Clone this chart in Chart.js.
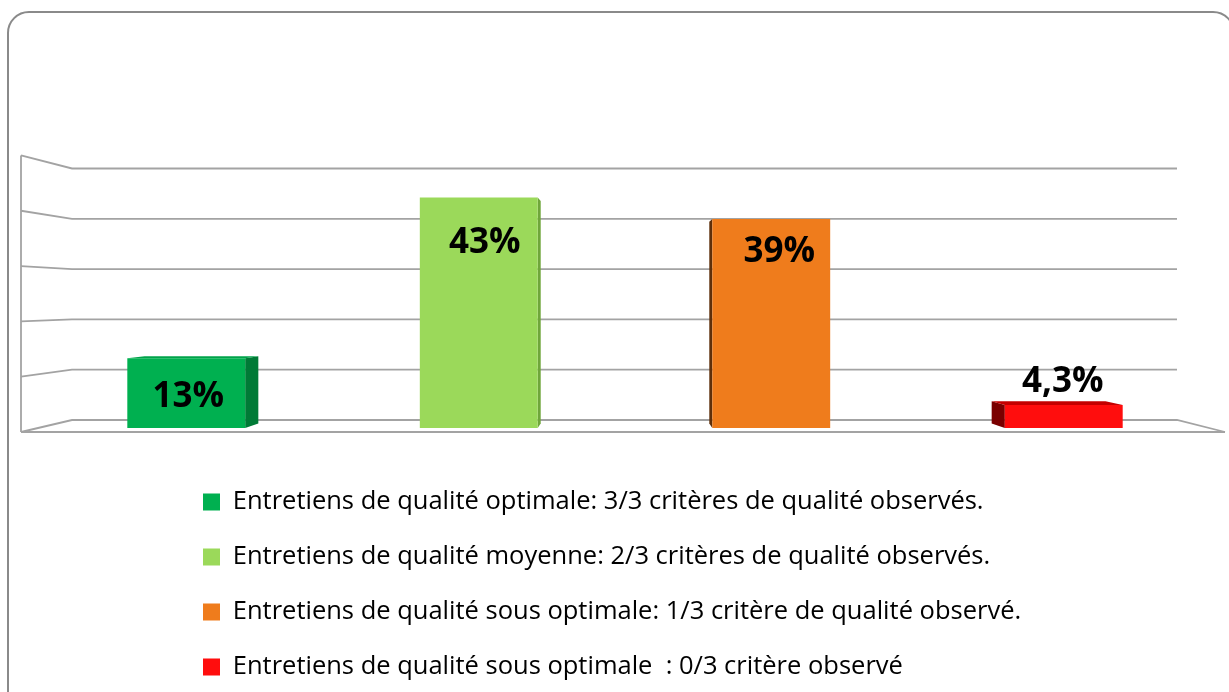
<!DOCTYPE html>
<html>
<head>
<meta charset="utf-8">
<script src="https://cdn.jsdelivr.net/npm/chart.js@4.4.0/dist/chart.umd.min.js"></script>
<style>
  html, body { margin: 0; padding: 0; background: #ffffff; }
  #wrap { width: 1229px; height: 692px; position: relative; }
</style>
</head>
<body>
<div id="wrap"><canvas id="c" width="1229" height="692"></canvas></div>
<script>
// ---- data ----
const categories = [
  'Entretiens de qualité optimale: 3/3 critères de qualité observés.',
  'Entretiens de qualité moyenne: 2/3 critères de qualité observés.',
  'Entretiens de qualité sous optimale: 1/3 critère de qualité observé.',
  'Entretiens de qualité sous optimale  : 0/3 critère observé'
];
const values = [13, 43, 39, 4.3];
const yTicks = [0, 10, 20, 30, 40, 50];

// ---- styles ----
const frontColors = ['#00B050', '#9BD95A', '#EF7C1C', '#FF0D0D'];
const sideColors  = ['#007A36', '#6FA63A', '#5E2F0A', '#7A0000'];
const topColors   = ['#00A34A', '#8BC94F', '#D96E15', '#C40000'];
// label baseline offsets relative to bar top (px) and x nudge
const labelDX = [2, 6, 8, -1];
const labelDY = [48.5, 55.5, 43.5, -12.5];

const fmt = v => String(v).replace('.', ',') + '%';

const frame = {
  id: 'frame',
  beforeDraw(chart) {
    const ctx = chart.ctx;
    ctx.save();
    ctx.strokeStyle = '#8A8A8A';
    ctx.lineWidth = 2;
    ctx.beginPath();
    ctx.roundRect(8, 12, 1226, 700, 21);
    ctx.stroke();
    ctx.restore();
  }
};

const walls = {
  id: 'walls',
  beforeDatasetsDraw(chart) {
    const {ctx, chartArea: a, scales: {y}} = chart;
    const B = a.bottom;
    const fy = v => B + 4 + (y.getPixelForValue(v) - B) * 1.032;
    const by = v => B - 8 + (y.getPixelForValue(v) - B) * 0.9385;
    const fl = a.left - 19, bl = a.left + 32, br = a.right - 33, fr = a.right + 15;
    ctx.save();
    ctx.strokeStyle = '#A3A3A3';
    ctx.lineWidth = 1.8;
    ctx.lineJoin = 'miter';
    ctx.beginPath();
    ctx.moveTo(fl, fy(yTicks[yTicks.length - 1]));
    ctx.lineTo(fl, fy(0));
    ctx.stroke();
    yTicks.forEach(v => {
      ctx.beginPath();
      ctx.moveTo(fl, fy(v));
      ctx.lineTo(bl, by(v));
      ctx.lineTo(br, by(v));
      if (v === 0) ctx.lineTo(fr, fy(0));
      ctx.stroke();
    });
    ctx.beginPath();
    ctx.moveTo(fl, fy(0));
    ctx.lineTo(fr, fy(0));
    ctx.stroke();
    ctx.restore();
  }
};

const bars3d = {
  id: 'bars3d',
  beforeDatasetsDraw(chart) {
    const {ctx, chartArea: a} = chart;
    const meta = chart.getDatasetMeta(0);
    const vx = (a.left + a.right) / 2;
    const vy = a.top + 0.52 * (a.bottom - a.top);
    const k = 0.0346;
    const back = (px, py) => [px + (vx - px) * k, py + (vy - py) * k];
    ctx.save();
    meta.data.forEach((bar, i) => {
      const p = bar.getProps(['x', 'y', 'base', 'width'], true);
      const xl = p.x - p.width / 2, xr = p.x + p.width / 2;
      const t = p.y, b = p.base;
      const TL = back(xl, t), TR = back(xr, t), BL = back(xl, b), BR = back(xr, b);
      ctx.fillStyle = sideColors[i];
      ctx.beginPath();
      if (TR[0] > xr) {
        ctx.moveTo(xr, t); ctx.lineTo(TR[0], TR[1]); ctx.lineTo(BR[0], BR[1]); ctx.lineTo(xr, b);
      } else {
        ctx.moveTo(xl, t); ctx.lineTo(TL[0], TL[1]); ctx.lineTo(BL[0], BL[1]); ctx.lineTo(xl, b);
      }
      ctx.closePath();
      ctx.fill();
      if (TL[1] < t) {
        ctx.fillStyle = topColors[i];
        ctx.beginPath();
        ctx.moveTo(xl, t); ctx.lineTo(xr, t); ctx.lineTo(TR[0], TR[1]); ctx.lineTo(TL[0], TL[1]);
        ctx.closePath();
        ctx.fill();
      }
    });
    ctx.restore();
  }
};

const valueLabels = {
  id: 'valueLabels',
  afterDatasetsDraw(chart) {
    const {ctx} = chart;
    const meta = chart.getDatasetMeta(0);
    ctx.save();
    ctx.font = 'bold 35px "Open Sans"';
    ctx.fillStyle = '#000000';
    ctx.textAlign = 'center';
    ctx.textBaseline = 'alphabetic';
    meta.data.forEach((bar, i) => {
      const p = bar.getProps(['x', 'y'], true);
      ctx.fillText(fmt(values[i]), p.x + labelDX[i], p.y + labelDY[i]);
    });
    ctx.restore();
  }
};

const legendPlace = {
  id: 'legendPlace',
  afterLayout(chart) {
    const lg = chart.legend;
    if (!lg) return;
    lg.left += 133.5;
    lg.right += 133.5;
    lg.top += 31.75;
    lg.bottom += 31.75;
  }
};

new Chart(document.getElementById('c'), {
  type: 'bar',
  data: {
    labels: categories,
    datasets: [{
      data: values,
      backgroundColor: frontColors,
      borderWidth: 0,
      categoryPercentage: 1,
      barPercentage: 0.403
    }]
  },
  options: {
    responsive: false,
    animation: false,
    devicePixelRatio: 1,
    layout: { padding: { left: 40, right: 19, top: 160, bottom: 34 } },
    scales: {
      x: { display: false },
      y: { display: false, min: 0, max: 50, ticks: { stepSize: 10 } }
    },
    plugins: {
      tooltip: { enabled: false },
      legend: {
        display: true,
        position: 'bottom',
        align: 'start',
        labels: {
          font: { family: 'Open Sans', size: 25.5 },
          color: '#000000',
          boxWidth: 17,
          boxHeight: 17,
          padding: 29.5,
          generateLabels(chart) {
            return categories.map((c, i) => ({
              text: c,
              fillStyle: frontColors[i],
              strokeStyle: frontColors[i],
              lineWidth: 0,
              hidden: false,
              index: i
            }));
          }
        }
      }
    }
  },
  plugins: [frame, walls, bars3d, valueLabels, legendPlace]
});
</script>
</body>
</html>
